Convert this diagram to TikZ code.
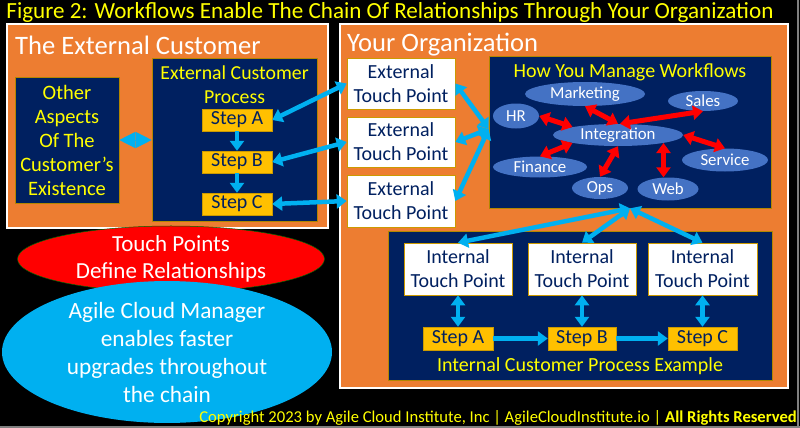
\documentclass[tikz,border=0pt]{standalone}
\usepackage{fontspec}
\setmainfont{Carlito}
\usetikzlibrary{arrows.meta,shapes.geometric,calc}
\definecolor{navy}{HTML}{002060}
\definecolor{orng}{HTML}{ED7D31}
\definecolor{gold}{HTML}{FFC000}
\definecolor{sky}{HTML}{00B0F0}
\definecolor{ellblue}{HTML}{4472C4}
\definecolor{ylw}{HTML}{FFFF00}
\definecolor{tpnavy}{HTML}{002060}
\begin{document}
\begin{tikzpicture}[x=1pt,y=-1pt,
  orgbox/.style={draw=white,line width=1.2pt,fill=orng,inner sep=0pt},
  navybox/.style={draw=gold!70!black,line width=0.6pt,fill=navy,inner sep=0pt},
  tpbox/.style={draw=gold!80!black,line width=0.6pt,fill=white,inner sep=0pt,text=tpnavy,font=\fontsize{20}{24}\selectfont,align=center,minimum width=108pt},
  stepbox/.style={draw=gold!80!black,line width=0.4pt,fill=gold,inner sep=0pt,text=tpnavy,font=\fontsize{20}{22}\selectfont,minimum height=22pt},
  dept/.style={ellipse,fill=ellblue,inner sep=0pt,text=white,font=\fontsize{16.8}{18}\selectfont},
  bluearr/.style={draw=sky,line width=4.5pt,{Triangle[width=14pt,length=10pt]}-{Triangle[width=14pt,length=10pt]}},
  bluefwd/.style={draw=sky,line width=4.5pt,-{Triangle[width=14pt,length=10pt]}},
  redarr/.style={draw=red,line width=5pt,{Triangle[width=14pt,length=10pt]}-{Triangle[width=14pt,length=10pt]}},
  heading/.style={text=white,font=\fontsize{26.6}{28}\selectfont,anchor=west,inner sep=0pt}
]
\useasboundingbox (0,0) rectangle (800,428);
\fill[black] (0,0) rectangle (800,428);
\draw[gray,line width=1.5pt] (798,0) -- (798,428);
\draw[gray,line width=1.5pt] (0,427) -- (800,427);

% title
\node[text=ylw,font=\fontsize{23.1}{26}\selectfont,inner sep=0pt] (title) at (390,12) {Figure 2: Workflows Enable The Chain Of Relationships Through Your Organization};

% External customer
\node[orgbox,minimum width=321pt,minimum height=204pt] (extbox) at (167.5,126) {};
\node[heading] (exthead) at (15,45) {The External Customer};
\node[navybox,minimum width=104pt,minimum height=126pt,text=ylw,font=\fontsize{20.5}{24}\selectfont,align=center] (other) at (67,140) {Other\\Aspects\\Of The\\Customer’s\\Existence};
\node[navybox,minimum width=165pt,minimum height=163pt] (extproc) at (234.5,139.5) {};
\node[text=ylw,font=\fontsize{19.8}{24}\selectfont,align=center,inner sep=0pt] (extproct) at (234.5,85) {External Customer\\Process};
\node[stepbox,minimum width=70pt] (eA) at (237,120) {Step A};
\node[stepbox,minimum width=70pt] (eB) at (237,162) {Step B};
\node[stepbox,minimum width=70pt] (eC) at (237,204) {Step C};
\draw[bluefwd] (eA.south) -- (eB.north);
\draw[bluefwd] (eB.south) -- (eC.north);
\draw[draw=sky,line width=1pt,{Triangle[width=16pt,length=16pt]}-{Triangle[width=16pt,length=16pt]}] (other.east) -- (other.east -| extproc.west);

% Your organization
\node[orgbox,minimum width=448pt,minimum height=364pt] (orgbox) at (564,206) {};
\node[heading] (orghead) at (347,45) {Your Organization};
\node[tpbox,minimum height=51pt] (tp1) at (401,83.5) {External\\Touch Point};
\node[tpbox,minimum height=50pt] (tp2) at (401,142) {External\\Touch Point};
\node[tpbox,minimum height=52pt] (tp3) at (401,201) {External\\Touch Point};

% workflows box
\node[navybox,minimum width=282pt,minimum height=152pt] (wf) at (630,132) {};
\node[text=ylw,font=\fontsize{20}{22}\selectfont,inner sep=0pt] (wft) at (630,72) {How You Manage Workflows};
\node[dept,minimum width=120pt,minimum height=24pt] (mkt) at (585,94) {Marketing};
\node[dept,minimum width=70pt,minimum height=20pt] (sales) at (703,101) {Sales};
\node[dept,minimum width=46pt,minimum height=25pt] (hr) at (516,116) {HR};
\node[dept,minimum width=130pt,minimum height=22pt] (integ) at (618,135) {Integration};
\node[dept,minimum width=94pt,minimum height=21pt] (fin) at (540,167) {Finance};
\node[dept,minimum width=86pt,minimum height=23pt] (svc) at (725,160) {Service};
\node[dept,minimum width=56pt,minimum height=22pt] (ops) at (600,188) {Ops};
\node[dept,minimum width=61pt,minimum height=23pt] (web) at (668,189) {Web};
\draw[redarr] (hr.east) -- (integ.170);
\draw[redarr] (mkt.south) -- (integ.north);
\draw[redarr] (integ.80) -- (sales.south);
\draw[redarr] (fin.north) -- (integ.190);
\draw[redarr] (ops.north) -- (integ.south);
\draw[redarr] (integ.-10) -- (integ.-10 |- web.north);
\draw[redarr] (integ.east) -- (svc.north);

% external touch point arrows
\draw[bluearr] (tp1.west) -- (eA.east);
\draw[bluearr] (tp2.west) -- (eB.east);
\draw[bluearr] (tp3.west) -- (eC.east);
\coordinate (wfin) at ($(wf.west)+(0,-3)$);
\draw[bluearr] (tp1.east) -- (wfin);
\draw[bluearr] (tp2.east) -- (wfin);
\draw[bluearr] (tp3.east) -- (wfin);

% internal process
\node[navybox,minimum width=384pt,minimum height=149pt] (intbox) at (580,305.5) {};
\node[tpbox,minimum height=52pt] (itp1) at (458,269) {Internal\\Touch Point};
\node[tpbox,minimum height=52pt] (itp2) at (582,269) {Internal\\Touch Point};
\node[tpbox,minimum height=52pt,minimum width=109pt] (itp3) at (702.5,269) {Internal\\Touch Point};
\node[stepbox,minimum width=70pt,minimum height=23pt] (iA) at (458,338.5) {Step A};
\node[stepbox,minimum width=68pt,minimum height=23pt] (iB) at (582,338.5) {Step B};
\node[stepbox,minimum width=69pt,minimum height=23pt] (iC) at (702.5,338.5) {Step C};
\node[text=ylw,font=\fontsize{20}{22}\selectfont,inner sep=0pt] (intt) at (580,366) {Internal Customer Process Example};
\draw[bluearr] (itp1.south) -- (iA.north);
\draw[bluearr] (itp2.south) -- (iB.north);
\draw[bluearr] (itp3.south) -- (iC.north);
\draw[bluefwd] (iA.east) -- (iB.west);
\draw[bluefwd] (iB.east) -- (iC.west);
\draw[bluearr] (wf.south) -- (itp1.north);
\draw[bluearr] (wf.south) -- (itp2.north);
\draw[bluearr] (wf.south) -- (itp3.north);

% left ellipses
\node[ellipse,fill=red,draw=green!40!black,line width=0.5pt,minimum width=307pt,minimum height=60pt,inner sep=0pt,text=white,font=\fontsize{23}{27}\selectfont,align=center] (redell) at (171,259) {Touch Points\\Define Relationships};
\node[ellipse,fill=sky,minimum width=330pt,minimum height=121pt,inner sep=0pt,text=white,font=\fontsize{23.3}{28}\selectfont,align=center] (blueell) at (167,352) {Agile Cloud Manager\\enables faster\\upgrades throughout\\the chain};

% copyright
\node[text=ylw,font=\fontsize{16.6}{18}\selectfont,anchor=east,inner sep=0pt] (copy) at (797,418) {Copyright 2023 by Agile Cloud Institute, Inc | AgileCloudInstitute.io | \textbf{All Rights Reserved}};
\end{tikzpicture}
\end{document}
